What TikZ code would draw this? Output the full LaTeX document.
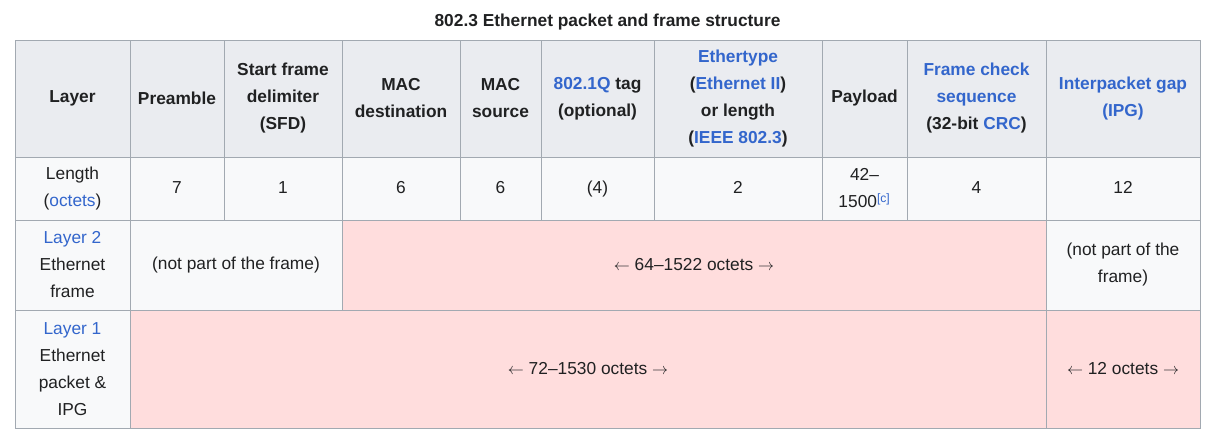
\documentclass[tikz,border=0pt]{standalone}
\usepackage{fontspec}
\setmainfont{Liberation Sans}
\usetikzlibrary{calc}
%
\definecolor{headgray}{HTML}{EAECF0}
\definecolor{cellgray}{HTML}{F8F9FA}
\definecolor{gridgray}{HTML}{A2A9B1}
\definecolor{framepink}{HTML}{FFDDDD}
\definecolor{inkblack}{HTML}{202122}
\definecolor{linkblue}{HTML}{3366CC}
\newcommand{\lnk}[1]{{\color{linkblue}#1}}
%
\begin{document}
\begin{tikzpicture}[x=0.75pt,y=-0.75pt,
  celltext/.style={align=center,text=inkblack,inner sep=0pt,font=\fontsize{13}{20.25}\selectfont},
  headtext/.style={celltext,font=\fontsize{13}{20.25}\selectfont\bfseries},
  gridline/.style={draw=gridgray,line width=0.75pt}]%
%
\def\cell[#1:#2](#3)(#4)#5#6% Syntax: [fill:text style] (top left) (bottom right) {name} {text}
{ \draw[gridline,fill=#1] (#3) rectangle (#4);
  \node[#2] (#5) at ($(#3)!0.5!(#4)$) {#6}; };
%
\fill[white] (0,0) rectangle (1220,440);
\useasboundingbox (0,0) rectangle (1220,440);
%
\node[headtext] (title) at (607.5,22) {802.3 Ethernet packet and frame structure};
%
% header row
\cell[headgray:headtext](15,40)(130,157){hLayer}{Layer}
\cell[headgray:headtext](130,40)(224,157){hPre}{Preamble}
\cell[headgray:headtext](224,40)(342,157){hSfd}{Start frame\\delimiter\\(SFD)}
\cell[headgray:headtext](342,40)(460,157){hDst}{MAC\\destination}
\cell[headgray:headtext](460,40)(541,157){hSrc}{MAC\\source}
\cell[headgray:headtext](541,40)(654,157){hTag}{\lnk{802.1Q} tag\\(optional)}
\cell[headgray:headtext](654,40)(822,157){hType}{\lnk{Ethertype}\\(\lnk{Ethernet II})\\or length\\(\lnk{IEEE 802.3})}
\cell[headgray:headtext](822,40)(907,157){hLoad}{Payload}
\cell[headgray:headtext](907,40)(1046,157){hFcs}{\lnk{Frame check}\\\lnk{sequence}\\(32-bit \lnk{CRC})}
\cell[headgray:headtext](1046,40)(1200,157){hIpg}{\lnk{Interpacket gap}\\\lnk{(IPG)}}
%
% length row
\cell[cellgray:celltext](15,157)(130,220){lLayer}{Length\\(\lnk{octets})}
\cell[cellgray:celltext](130,157)(224,220){lPre}{\strut 7}
\cell[cellgray:celltext](224,157)(342,220){lSfd}{\strut 1}
\cell[cellgray:celltext](342,157)(460,220){lDst}{\strut 6}
\cell[cellgray:celltext](460,157)(541,220){lSrc}{\strut 6}
\cell[cellgray:celltext](541,157)(654,220){lTag}{\strut (4)}
\cell[cellgray:celltext](654,157)(822,220){lType}{\strut 2}
\cell[cellgray:celltext](822,157)(907,220){lLoad}{42–\\1500\textsuperscript{\lnk{[c]}}}
\cell[cellgray:celltext](907,157)(1046,220){lFcs}{\strut 4}
\cell[cellgray:celltext](1046,157)(1200,220){lIpg}{\strut 12}
%
% layer 2
\cell[cellgray:celltext](15,220)(130,310){fLayer}{\lnk{Layer 2}\\Ethernet\\frame}
\cell[cellgray:celltext](130,220)(342,310){fOut}{(not part of the frame)}
\cell[framepink:celltext](342,220)(1046,310){fIn}{$\leftarrow$ 64–1522 octets $\rightarrow$}
\cell[cellgray:celltext](1046,220)(1200,310){fGap}{(not part of the\\frame)}
%
% layer 1
\cell[cellgray:celltext](15,310)(130,428){pLayer}{\lnk{Layer 1}\\Ethernet\\packet \&\\IPG}
\cell[framepink:celltext](130,310)(1046,428){pIn}{$\leftarrow$ 72–1530 octets $\rightarrow$}
\cell[framepink:celltext](1046,310)(1200,428){pGap}{$\leftarrow$ 12 octets $\rightarrow$}
%
\end{tikzpicture}
\end{document}
